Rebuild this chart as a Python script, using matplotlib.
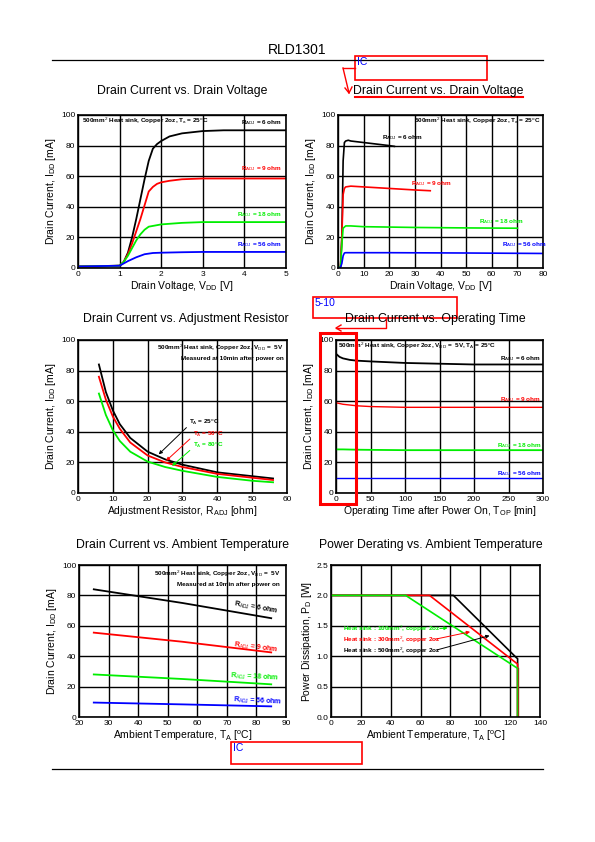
import matplotlib

matplotlib.use("Agg")
import matplotlib.pyplot as plt
from matplotlib.patches import Rectangle
from matplotlib.lines import Line2D

plt.rcParams["font.family"] = ["Liberation Sans", "DejaVu Sans"]
plt.rcParams["mathtext.fontset"] = "custom"
plt.rcParams["mathtext.rm"] = "Liberation Sans"
plt.rcParams["mathtext.it"] = "Liberation Sans"
plt.rcParams["mathtext.bf"] = "Liberation Sans:bold"

W, H = 595, 842
BLACK, RED, GREEN, BLUE = "#000000", "#ff0000", "#00ee00", "#0000ff"

# --- chart 1: drain current vs drain voltage (0-5 V)
v1_black = [0, 0.5, 1.0, 1.1, 1.2, 1.3, 1.4, 1.5, 1.6, 1.7, 1.8, 1.9, 2.0, 2.2, 2.5, 3.0, 3.5, 4.0, 5.0]
i1_black = [1, 1, 1.5, 4, 10, 20, 32, 45, 58, 70, 78, 81, 83, 86, 88, 89.5, 90, 90, 90]
v1_red = [0, 1.0, 1.1, 1.2, 1.3, 1.4, 1.5, 1.6, 1.7, 1.8, 1.9, 2.0, 2.2, 2.5, 3.0, 4.0, 5.0]
i1_red = [1, 1.5, 4, 9, 16, 24, 32, 41, 50, 53, 55, 56, 57, 58, 58.5, 58.5, 58.5]
v1_green = [0, 1.0, 1.1, 1.2, 1.3, 1.4, 1.5, 1.6, 1.7, 1.8, 2.0, 2.5, 3.0, 5.0]
i1_green = [1, 1.5, 4, 8, 13, 18, 22, 25, 27, 27.5, 28.5, 29.5, 30, 30]
v1_blue = [0, 1.0, 1.2, 1.4, 1.6, 1.8, 2.0, 2.5, 3.0, 5.0]
i1_blue = [1, 1.5, 4.5, 7, 9, 9.8, 10, 10.3, 10.5, 10.5]

# --- chart 2: drain current vs drain voltage (0-80 V)
v2_black = [0, 1, 1.5, 2, 2.5, 3, 4, 5, 10, 15, 20, 22]
i2_black = [0, 1, 20, 70, 82, 83, 83.5, 83, 82, 81, 80, 79.5]
v2_red = [0, 1, 1.5, 2, 2.5, 3, 5, 10, 20, 30, 36]
i2_red = [0, 1, 20, 48, 52, 53, 53.5, 53, 52, 51, 50.5]
v2_green = [0, 1, 1.5, 2, 3, 5, 10, 30, 50, 70]
i2_green = [0, 1, 15, 26, 27.5, 27.5, 27, 26.5, 26.2, 26]
v2_blue = [0, 1, 1.5, 2, 2.5, 3, 5, 20, 50, 80]
i2_blue = [0, 0.5, 3, 8, 9.8, 10, 10, 10, 9.8, 9.5]

# --- chart 3: drain current vs adjustment resistor
r3 = [6, 8, 10, 12, 15, 20, 25, 30, 40, 50, 56]
i3_25c = [84, 66, 54, 45, 36, 27, 22, 18.5, 13.5, 11, 9.5]
i3_50c = [76, 61, 50, 42, 33, 24.5, 20, 17, 12.5, 10, 8.5]
i3_80c = [65, 51, 41, 34, 27, 20.5, 17, 14.5, 10.5, 8, 7]

# --- chart 4: drain current vs operating time
t4 = [0, 5, 10, 20, 30, 50, 100, 150, 200, 300]
i4_black = [91, 89, 88, 87, 86.5, 86, 85, 84.5, 84, 84]
i4_red = [59, 58.5, 58, 57.5, 57, 56.5, 56, 56, 56, 56]
i4_green = [28.5, 28.5, 28.5, 28.4, 28.3, 28.2, 28, 28, 28, 28]
i4_blue = [9.8, 9.8, 9.8, 9.8, 9.8, 9.8, 9.8, 9.8, 9.8, 9.8]

# --- chart 5: drain current vs ambient temperature
ta5 = [25, 55, 85]
i5_black = [84, 75, 65]
i5_red = [55.5, 49.5, 42.5]
i5_green = [28, 25, 21.5]
i5_blue = [9.5, 8.3, 7]

# --- chart 6: power derating
ta6_100 = [0, 50, 125, 125]
pd6_100 = [2.0, 2.0, 0.8, 0.0]
ta6_300 = [0, 66, 125, 125]
pd6_300 = [2.0, 2.0, 0.87, 0.0]
ta6_500 = [0, 82, 124, 125, 125]
pd6_500 = [2.0, 2.0, 0.98, 0.96, 0.0]

fig = plt.figure(figsize=(W / 100, H / 100), dpi=100)


def px_axes(x0, y0, x1, y1):
    return fig.add_axes([x0 / W, 1 - y1 / H, (x1 - x0) / W, (y1 - y0) / H])


def fx(x):
    return x / W


def fy(y):
    return 1 - y / H


def style(ax, xlim, ylim, xt, yt, xlabel, ylabel, yfmt=None):
    ax.set_xlim(*xlim)
    ax.set_ylim(*ylim)
    ax.set_xticks(xt)
    ax.set_yticks(yt)
    if yfmt:
        ax.set_yticklabels([yfmt.format(v) for v in yt])
    ax.grid(True, color="black", linewidth=1.0)
    ax.set_axisbelow(True)
    ax.tick_params(length=0, labelsize=6, pad=2)
    for s in ax.spines.values():
        s.set_linewidth(1.2)
    ax.set_xlabel(xlabel, fontsize=7.5, labelpad=1)
    ax.set_ylabel(ylabel, fontsize=7.5, labelpad=2)


def note(ax, x, y, s, color, ha="left", rot=0, size=4.6):
    ax.text(x, y, s, color=color, fontsize=size, fontweight="bold", ha=ha, va="center",
            rotation=rot, transform=ax.transData)


ylab_id = r"Drain Current, I$_{\mathrm{DD}}$ [mA]"
rl = r"R$_{\mathrm{ADJ}}$"

# header
fig.text(fx(297), fy(50), "RLD1301", fontsize=10, ha="center", va="center")
fig.add_artist(Line2D([fx(52), fx(543)], [fy(60), fy(60)], color="black", lw=0.9))
fig.add_artist(Line2D([fx(52), fx(543)], [fy(769), fy(769)], color="black", lw=0.9))

# titles
for x, y, s in [(182, 91, "Drain Current vs. Drain Voltage"),
                (438, 91, "Drain Current vs. Drain Voltage"),
                (186, 319, "Drain Current vs. Adjustment Resistor"),
                (435, 319, "Drain Current vs. Operating Time"),
                (182, 545, "Drain Current vs. Ambient Temperature"),
                (431, 545, "Power Derating vs. Ambient Temperature")]:
    fig.text(fx(x), fy(y), s, fontsize=8.8, ha="center", va="center")

# chart 1
ax = px_axes(78, 115, 286, 268)
style(ax, (0, 5), (0, 100), range(0, 6), range(0, 101, 20),
      r"Drain Voltage, V$_{\mathrm{DD}}$ [V]", ylab_id)
ax.plot(v1_black, i1_black, color=BLACK, lw=1.3)
ax.plot(v1_red, i1_red, color=RED, lw=1.3)
ax.plot(v1_green, i1_green, color=GREEN, lw=1.3)
ax.plot(v1_blue, i1_blue, color=BLUE, lw=1.3)
note(ax, 0.1, 96, r"500mm$^{2}$ Heat sink, Copper 2oz, T$_{a}$ = 25$^{o}$C", BLACK)
note(ax, 4.9, 95, rl + " = 6 ohm", BLACK, ha="right")
note(ax, 4.9, 65, rl + " = 9 ohm", RED, ha="right")
note(ax, 4.9, 35, rl + " = 18 ohm", GREEN, ha="right")
note(ax, 4.9, 15.5, rl + " = 56 ohm", BLUE, ha="right")

# chart 2
ax = px_axes(338, 115, 543, 268)
style(ax, (0, 80), (0, 100), range(0, 81, 10), range(0, 101, 20),
      r"Drain Voltage, V$_{\mathrm{DD}}$ [V]", ylab_id)
ax.plot(v2_black, i2_black, color=BLACK, lw=1.2)
ax.plot(v2_red, i2_red, color=RED, lw=1.2)
ax.plot(v2_green, i2_green, color=GREEN, lw=1.2)
ax.plot(v2_blue, i2_blue, color=BLUE, lw=1.2)
note(ax, 79, 96, r"500mm$^{2}$ Heat sink, Copper 2oz, T$_{a}$ = 25$^{o}$C", BLACK, ha="right")
note(ax, 17, 85, rl + " = 6 ohm", BLACK)
note(ax, 28.5, 55, rl + " = 9 ohm", RED)
note(ax, 55, 30.5, rl + " = 18 ohm", GREEN)
note(ax, 64, 15, rl + " = 56 ohm", BLUE)

# chart 3
ax = px_axes(78, 340, 287, 493)
style(ax, (0, 60), (0, 100), range(0, 61, 10), range(0, 101, 20),
      r"Adjustment Resistor, R$_{\mathrm{ADJ}}$ [ohm]", ylab_id)
ax.plot(r3, i3_25c, color=BLACK, lw=1.3)
ax.plot(r3, i3_50c, color=RED, lw=1.3)
ax.plot(r3, i3_80c, color=GREEN, lw=1.3)
note(ax, 59, 95, r"500mm$^{2}$ Heat sink, Copper 2oz, V$_{\mathrm{DD}}$ =  5V", BLACK, ha="right")
note(ax, 59, 88, "Measured at 10min after power on", BLACK, ha="right")
for (tx, ty, ex, ey, c, lab) in [(32, 46, 22.6, 24, BLACK, "25"), (33, 38.5, 24.7, 19.8, RED, "50"),
                                (33, 31, 26.4, 16.5, GREEN, "80")]:
    ax.annotate("", xy=(ex, ey), xytext=(tx - 0.3, ty - 2),
                arrowprops=dict(arrowstyle="-|>", color=c, lw=0.7, mutation_scale=5))
    note(ax, tx, ty, r"T$_{A}$ = " + lab + r"$^{o}$C", c)

# chart 4
ax = px_axes(336, 340, 543, 493)
style(ax, (0, 300), (0, 100), range(0, 301, 50), range(0, 101, 20),
      r"Operating Time after Power On, T$_{\mathrm{OP}}$ [min]", ylab_id)
ax.plot(t4, i4_black, color=BLACK, lw=1.3)
ax.plot(t4, i4_red, color=RED, lw=1.0)
ax.plot(t4, i4_green, color=GREEN, lw=1.3)
ax.plot(t4, i4_blue, color=BLUE, lw=1.0)
note(ax, 3, 96, r"500mm$^{2}$ Heat sink, Copper 2oz, V$_{\mathrm{DD}}$ =  5V, T$_{A}$ = 25$^{o}$C", BLACK)
note(ax, 297, 88, rl + " = 6 ohm", BLACK, ha="right")
note(ax, 297, 61, rl + " = 9 ohm", RED, ha="right")
note(ax, 297, 31, rl + " = 18 ohm", GREEN, ha="right")
note(ax, 297, 13, rl + " = 56 ohm", BLUE, ha="right")

# chart 5
ax = px_axes(79, 565, 286, 717)
style(ax, (20, 90), (0, 100), range(20, 91, 10), range(0, 101, 20),
      r"Ambient Temperature, T$_{A}$ [$^{o}$C]", ylab_id)
ax.plot(ta5, i5_black, color=BLACK, lw=1.3)
ax.plot(ta5, i5_red, color=RED, lw=1.3)
ax.plot(ta5, i5_green, color=GREEN, lw=1.3)
ax.plot(ta5, i5_blue, color=BLUE, lw=1.3)
note(ax, 88, 94, r"500mm$^{2}$ Heat sink, Copper 2oz, V$_{\mathrm{DD}}$ =  5V", BLACK, ha="right")
note(ax, 88, 87, "Measured at 10min after power on", BLACK, ha="right")
note(ax, 72, 72, rl + " = 6 ohm", BLACK, rot=-10, size=5.0)
note(ax, 72, 45.5, rl + " = 9 ohm", RED, rot=-7, size=5.0)
note(ax, 71, 26.5, rl + " = 18 ohm", GREEN, rot=-3, size=5.0)
note(ax, 72, 10.5, rl + " = 56 ohm", BLUE, rot=-3, size=5.0)

# chart 6
ax = px_axes(331, 565, 540, 717)
style(ax, (0, 140), (0, 2.5), range(0, 141, 20), [0, 0.5, 1.0, 1.5, 2.0, 2.5],
      r"Ambient Temperature, T$_{A}$ [$^{o}$C]", r"Power Dissipation, P$_{D}$ [W]", yfmt="{:.1f}")
ax.plot(ta6_500, pd6_500, color=BLACK, lw=1.2)
ax.plot(ta6_300, pd6_300, color=RED, lw=1.2)
ax.plot(ta6_100, pd6_100, color=GREEN, lw=1.2)
ax.plot([125, 125], [0, 0.8], color="#8b4513", lw=1.0)
for (tx, ty, sx, ex, ey, c, lab) in [(8, 1.45, 71, 80, 1.47, GREEN, "100"),
                                     (8, 1.27, 68, 95, 1.41, RED, "300"),
                                     (8, 1.09, 69, 108, 1.35, BLACK, "500")]:
    note(ax, tx, ty, "Heat sink : " + lab + r"mm$^{2}$, copper 2oz", c, size=4.6)
    ax.annotate("", xy=(ex, ey), xytext=(sx, ty),
                arrowprops=dict(arrowstyle="-|>", color=c, lw=0.7, mutation_scale=5))


# red review marks
def red_box(x0, y0, x1, y1, lw=1.2, text=None):
    fig.add_artist(Rectangle((fx(x0), fy(y1)), fx(x1 - x0), (y1 - y0) / H,
                             fill=False, edgecolor="red", lw=lw))
    if text:
        fig.text(fx(x0 + 2), fy(y0 + 1), text, color="blue", fontsize=7.5, ha="left", va="top")


red_box(355, 56, 487, 80, text="IC")
fig.add_artist(Line2D([fx(355), fx(343)], [fy(68), fy(68)], color="red", lw=1.0))
fig.add_artist(Line2D([fx(343), fx(349)], [fy(68), fy(93)], color="red", lw=1.0))
fig.add_artist(Line2D([fx(345), fx(349), fx(352)], [fy(88), fy(93), fy(87)], color="red", lw=1.0))
fig.add_artist(Line2D([fx(355), fx(382)], [fy(97), fy(97)], color="red", lw=1.5))
fig.add_artist(Line2D([fx(384), fx(523)], [fy(97), fy(97)], color="red", lw=1.5))

red_box(313, 297, 457, 318, text="5-10")
fig.add_artist(Line2D([fx(386), fx(386), fx(336)], [fy(318), fy(328), fy(328)], color="red", lw=1.0))
fig.add_artist(Line2D([fx(341), fx(336), fx(341)], [fy(325), fy(328), fy(331)], color="red", lw=1.0))
red_box(320, 333, 356, 504, lw=2.2)

red_box(231, 742, 362, 764, text="IC")

fig.savefig("out.png", dpi=100, facecolor="white")
